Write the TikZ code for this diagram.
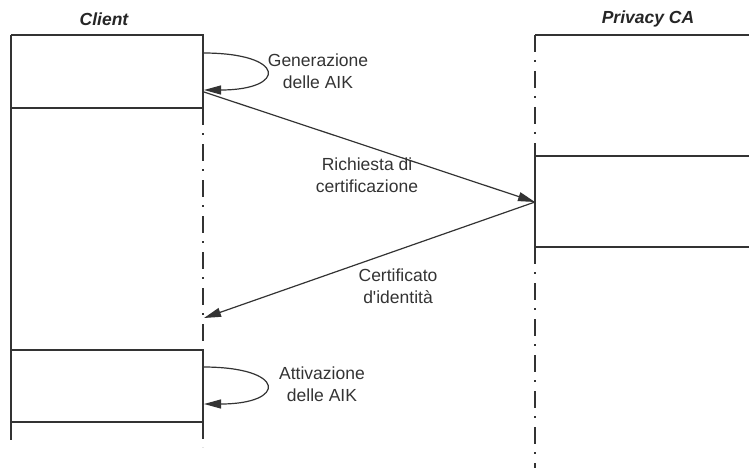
\documentclass[tikz,border=0pt]{standalone}
\usepackage{fontspec}
\setmainfont{Liberation Sans}
\usetikzlibrary{arrows.meta}

\tikzset{
  ln/.style={draw=black!80, line width=1.2pt},
  lifeline/.style={ln, dash pattern=on 17pt off 8pt on 2pt off 9pt},
  msg/.style={ln, -{Triangle[length=17pt,width=9pt]}},
  title/.style={font=\fontsize{17.5}{21}\selectfont\bfseries\itshape, text=black!85},
  lbl/.style={font=\fontsize{17.5}{22}\selectfont, text=black!80, align=center, inner sep=0pt},
}

\begin{document}
\begin{tikzpicture}[x=1pt, y=-1pt]
  \useasboundingbox (0,0) rectangle (749,468);

  % participant headers
  \node[title] (client) at (104,19) {Client};
  \node[title] (ca) at (648,19) {Privacy CA};

  % client frame and activation boxes
  \coordinate (c1) at (11,35);
  \coordinate (c2) at (203,35);
  \coordinate (c3) at (203,108);
  \coordinate (c4) at (11,108);
  \coordinate (c5) at (11,350);
  \coordinate (c6) at (203,350);
  \coordinate (c7) at (203,422);
  \coordinate (c8) at (11,422);
  \coordinate (c9) at (11,440);
  \coordinate (c10) at (203,447);
  \draw[ln] (c1) -- (c9);
  \draw[ln] (c1) -- (c2) -- (c3) -- (c4);
  \draw[ln] (c5) -- (c6) -- (c7) -- (c8);
  \draw[lifeline] (c3) -- (c6);
  \draw[lifeline] (c7) -- (c10);

  % Privacy CA frame and activation box
  \coordinate (p1) at (749,35);
  \coordinate (p2) at (535,35);
  \coordinate (p3) at (535,156);
  \coordinate (p4) at (749,156);
  \coordinate (p5) at (535,247);
  \coordinate (p6) at (749,247);
  \coordinate (p7) at (535,468);
  \draw[ln] (p1) -- (p2);
  \draw[lifeline] (p2) -- (p3);
  \draw[ln] (p4) -- (p3) -- (p5) -- (p6);
  \draw[lifeline] (p5) -- (p7);

  % messages
  \coordinate (g1) at (203,53);
  \coordinate (g2) at (204,90);
  \coordinate (req) at (204,92);
  \coordinate (caIn) at (535,202);
  \coordinate (resp) at (204,318);
  \coordinate (a1) at (203,367);
  \coordinate (a2) at (204,404);

  \draw[msg] (g1) .. controls (287,53) and (287,90) .. (g2);
  \draw[msg] (req) -- (caIn);
  \draw[msg] (caIn) -- (resp);
  \draw[msg] (a1) .. controls (287,367) and (287,404) .. (a2);

  % labels
  \node[lbl] (lgen) at (318,71) {Generazione\\delle AIK};
  \node[lbl] (lreq) at (367,175) {Richiesta di\\certificazione};
  \node[lbl] (lcert) at (398,286) {Certificato\\d\textquotesingle identità};
  \node[lbl] (latt) at (322,384) {Attivazione\\delle AIK};
\end{tikzpicture}
\end{document}
